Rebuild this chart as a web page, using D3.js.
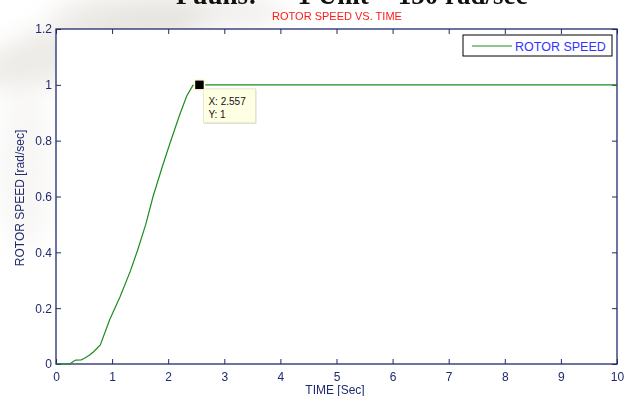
<!DOCTYPE html>
<html>
<head>
<meta charset="utf-8">
<script src="https://cdn.jsdelivr.net/npm/d3@7"></script>
<style>
  body { margin: 0; background: #fff; }
  svg { display: block; font-family: "Liberation Sans", Arial, sans-serif; }
</style>
</head>
<body>
<svg id="chart" width="626" height="396"></svg>
<script>
const time  = [0, 0.25, 0.3, 0.35, 0.45, 0.5, 0.6, 0.67, 0.79, 0.96, 1.14, 1.32, 1.45, 1.6, 1.73, 1.9, 2.03, 2.2, 2.33, 2.44, 2.557, 10]
const speed = [0, 0, 0.008, 0.014, 0.015, 0.02, 0.032, 0.044, 0.068, 0.16, 0.24, 0.33, 0.405, 0.5, 0.6, 0.71, 0.79, 0.89, 0.96, 0.998, 1, 1]
const xTicks = [0, 1, 2, 3, 4, 5, 6, 7, 8, 9, 10]
const yTicks = [0, 0.2, 0.4, 0.6, 0.8, 1, 1.2]
const tip = { x: 2.557, y: 1 }

const navy = '#1f2a6e'
const svg = d3.select('#chart')
const plotL = 56, plotR = 617, plotT = 29, plotB = 364

// faded backdrop in the corner
const defs = svg.append('defs')
defs.append('filter').attr('id', 'blur')
  .append('feGaussianBlur').attr('stdDeviation', 12)
const bg = svg.append('g').attr('filter', 'url(#blur)')
bg.append('ellipse').attr('cx', 90).attr('cy', 45).attr('rx', 120).attr('ry', 30)
  .attr('transform', 'rotate(-15 90 45)').attr('fill', '#d6d2cb').attr('opacity', 0.45)
bg.append('ellipse').attr('cx', 170).attr('cy', 12).attr('rx', 120).attr('ry', 18)
  .attr('fill', '#dedad3').attr('opacity', 0.45)
bg.append('ellipse').attr('cx', 25).attr('cy', 170).attr('rx', 28).attr('ry', 80)
  .attr('fill', '#e8e6e2').attr('opacity', 0.3)

// cut-off heading at the very top
svg.append('text').attr('x', 176).attr('y', 4)
  .attr('font-family', '"Liberation Serif", "Times New Roman", serif')
  .attr('font-weight', 'bold').attr('font-size', 27).attr('fill', '#111')
  .attr('xml:space', 'preserve')
  .text('Puuns:      1 Unit = 150 rad/sec')

const x = d3.scaleLinear().domain([0, 10]).range([plotL, plotR])
const y = d3.scaleLinear().domain([0, 1.2]).range([plotB, plotT])

svg.append('rect').attr('x', plotL).attr('y', plotT)
  .attr('width', plotR - plotL).attr('height', plotB - plotT).attr('fill', '#fff')

// axes, ticks inward on all sides
const tickLen = 5
const styleAxis = g => {
  g.select('.domain').remove()
  g.selectAll('line').attr('stroke', navy)
  g.selectAll('text').attr('fill', navy).attr('font-size', 12)
}
svg.append('g').attr('transform', `translate(0,${plotB})`)
  .call(d3.axisBottom(x).tickValues(xTicks).tickSize(-tickLen).tickPadding(8).tickFormat(d3.format('d')))
  .call(styleAxis)
svg.append('g').attr('transform', `translate(0,${plotT})`)
  .call(d3.axisTop(x).tickValues(xTicks).tickSize(-tickLen).tickFormat(''))
  .call(styleAxis)
svg.append('g').attr('transform', `translate(${plotL},0)`)
  .call(d3.axisLeft(y).tickValues(yTicks).tickSize(-tickLen).tickPadding(4).tickFormat(d => d))
  .call(styleAxis)
svg.append('g').attr('transform', `translate(${plotR},0)`)
  .call(d3.axisRight(y).tickValues(yTicks).tickSize(-tickLen).tickFormat(''))
  .call(styleAxis)

svg.append('rect').attr('x', plotL).attr('y', plotT)
  .attr('width', plotR - plotL).attr('height', plotB - plotT)
  .attr('fill', 'none').attr('stroke', navy).attr('stroke-width', 1.3)

// the speed curve
const pts = time.map((t, i) => [t, speed[i]])
svg.append('path').datum(pts)
  .attr('d', d3.line().x(d => x(d[0])).y(d => y(d[1])))
  .attr('fill', 'none').attr('stroke', '#1e8c1e').attr('stroke-width', 1.2)

// title and labels
svg.append('text').attr('x', 337).attr('y', 20).attr('text-anchor', 'middle')
  .attr('font-size', 11).attr('fill', '#ff1a1a').text('ROTOR SPEED VS. TIME')
svg.append('text').attr('x', 335).attr('y', 394).attr('text-anchor', 'middle')
  .attr('font-size', 12).attr('fill', navy).text('TIME [Sec]')
svg.append('text').attr('transform', 'translate(24,198) rotate(-90)').attr('text-anchor', 'middle')
  .attr('font-size', 12).attr('fill', navy).text('ROTOR SPEED [rad/sec]')

// legend
const lg = svg.append('g').attr('transform', 'translate(463,35)')
lg.append('rect').attr('width', 149).attr('height', 21)
  .attr('fill', '#fff').attr('stroke', '#000').attr('stroke-width', 1)
lg.append('line').attr('x1', 9).attr('x2', 49).attr('y1', 11).attr('y2', 11)
  .attr('stroke', '#1e8c1e').attr('stroke-width', 1.2)
lg.append('text').attr('x', 52).attr('y', 15.5).attr('font-size', 12.5)
  .attr('fill', '#3333ff').text('ROTOR SPEED')

// data tip
const tx = x(tip.x), ty = y(tip.y)
const tg = svg.append('g')
tg.append('rect').attr('x', tx + 5).attr('y', ty + 5).attr('width', 52).attr('height', 34)
  .attr('fill', '#d8d8d0')
tg.append('rect').attr('x', tx + 4).attr('y', ty + 4).attr('width', 52).attr('height', 34)
  .attr('fill', '#ffffe4').attr('stroke', '#e6e6cc')
tg.append('text').attr('x', tx + 9).attr('y', ty + 20).attr('font-size', 10)
  .attr('fill', '#111').text('X: ' + tip.x)
tg.append('text').attr('x', tx + 9).attr('y', ty + 33).attr('font-size', 10)
  .attr('fill', '#111').text('Y: ' + tip.y)
tg.append('rect').attr('x', tx - 5).attr('y', ty - 5).attr('width', 10).attr('height', 10)
  .attr('fill', '#000').attr('stroke', '#ffffd8').attr('stroke-width', 1.5)
</script>
</body>
</html>
